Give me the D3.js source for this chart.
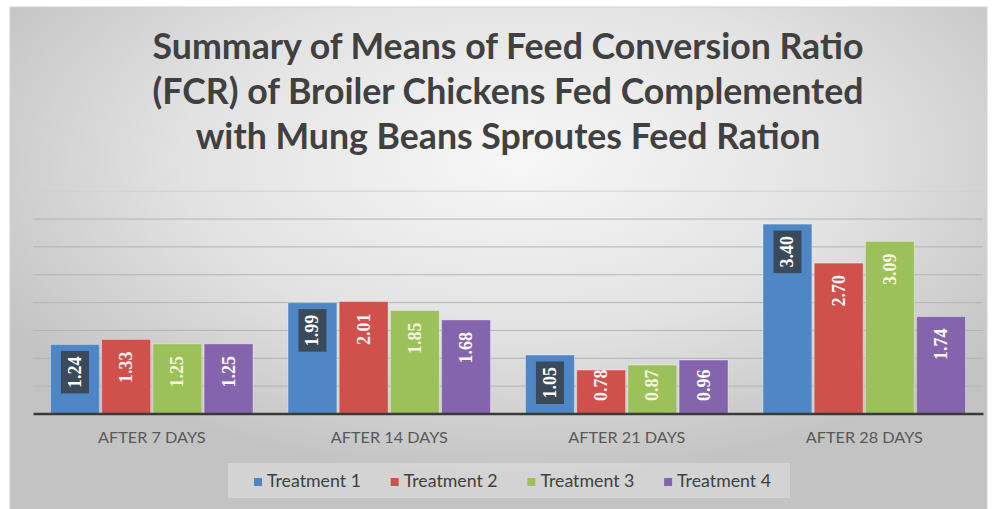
<!DOCTYPE html>
<html>
<head>
<meta charset="utf-8">
<script src="https://cdn.jsdelivr.net/npm/d3@7"></script>
<style>
  html, body { margin: 0; padding: 0; background: #ffffff; }
  svg { display: block; }
</style>
</head>
<body>
<svg id="chart" width="994" height="509"></svg>
<script>
// ---------- data ----------
const categories = ["AFTER 7 DAYS", "AFTER 14 DAYS", "AFTER 21 DAYS", "AFTER 28 DAYS"];
const seriesNames = ["Treatment 1", "Treatment 2", "Treatment 3", "Treatment 4"];
const treatment1 = [1.24, 1.99, 1.05, 3.40];
const treatment2 = [1.33, 2.01, 0.78, 2.70];
const treatment3 = [1.25, 1.85, 0.87, 3.09];
const treatment4 = [1.25, 1.68, 0.96, 1.74];
const yTicks = [0.5, 1.0, 1.5, 2.0, 2.5, 3.0, 3.5, 4.0];
const titleLines = [
  "Summary of Means of Feed Conversion Ratio",
  "(FCR) of Broiler Chickens Fed Complemented",
  "with Mung Beans Sproutes Feed Ration"
];

// ---------- styles ----------
const colors = ["#4f86c6", "#d0504c", "#9cc05a", "#8465ad"];
const labelColors = ["#ffffff", "#fff4f4", "#f4f8dc", "#ffffff"];
const seriesValues = [treatment1, treatment2, treatment3, treatment4];

const svg = d3.select("#chart");
const W = 994, H = 509;

// background gradient
const defs = svg.append("defs");
const grad = defs.append("radialGradient").attr("id", "bg")
  .attr("cx", "52%").attr("cy", "30%").attr("r", "62%");
grad.append("stop").attr("offset", "0%").attr("stop-color", "#f7f7f7");
grad.append("stop").attr("offset", "55%").attr("stop-color", "#e2e2e2");
grad.append("stop").attr("offset", "100%").attr("stop-color", "#c3c3c3");

svg.append("rect").attr("x", 0).attr("y", 0).attr("width", W).attr("height", H).attr("fill", "#ffffff");
svg.append("rect").attr("x", 10).attr("y", 7).attr("width", 977).attr("height", 510)
  .attr("fill", "url(#bg)").attr("stroke", "#d2d2d2").attr("stroke-width", 1);

// ---------- scales ----------
const plotLeft = 33, plotRight = 983;
const y = d3.scaleLinear().domain([0, 4]).range([413.5, 190.7]);
const x0 = d3.scaleBand().domain(categories).range([plotLeft, plotRight]).padding(0);
const groupPad = 17.5;
const x1 = d3.scaleBand().domain(seriesNames)
  .range([groupPad, x0.bandwidth() - groupPad]).paddingInner(0.045).paddingOuter(0);

// gridlines
const grid = svg.append("g").attr("class", "grid")
  .attr("transform", `translate(${plotLeft},0)`)
  .call(d3.axisLeft(y).tickValues(yTicks).tickSize(-(plotRight - plotLeft)).tickFormat(""));
grid.select(".domain").remove();
grid.selectAll(".tick line")
  .attr("stroke", d => d >= 3.75 ? "#cfcfcf" : "#b3b3b3")
  .attr("stroke-width", 1);

// bars
const rows = categories.map((c, i) => ({
  cat: c,
  vals: seriesNames.map((s, j) => ({ s, j, v: seriesValues[j][i] }))
}));

const groups = svg.append("g").selectAll("g.grp").data(rows).join("g")
  .attr("class", "grp")
  .attr("transform", d => `translate(${x0(d.cat)},0)`);

groups.selectAll("rect.bar").data(d => d.vals).join("rect")
  .attr("class", "bar")
  .attr("x", d => x1(d.s))
  .attr("y", d => y(d.v))
  .attr("width", x1.bandwidth())
  .attr("height", d => y(0) - y(d.v))
  .attr("fill", d => colors[d.j])
  .attr("stroke", "rgba(255,255,255,0.35)")
  .attr("stroke-width", 1);

// data labels (rotated, inside end; pushed up when the bar is short)
const labelFont = "'Liberation Serif', 'DejaVu Serif', serif";
const lbl = groups.selectAll("g.lbl").data(d => d.vals).join("g")
  .attr("class", "lbl");

const boxes = lbl.filter(d => d.j === 0).append("rect")
  .attr("fill", "#3b4a5b");

const ltxt = lbl.append("text")
  .attr("x", 0).attr("y", 0)
  .attr("text-anchor", "start")
  .attr("dominant-baseline", "central")
  .attr("font-family", labelFont)
  .attr("font-weight", "bold")
  .attr("font-size", 18)
  .attr("fill", d => labelColors[d.j])
  .text(d => d.v.toFixed(2));

ltxt.each(function (d) {
  const len = this.getComputedTextLength();
  d.len = len;
  const topY = y(d.v) + 12;
  const bottomLimit = y(0) - 12.5;
  let bottomY = topY + len;
  if (bottomY > bottomLimit) bottomY = bottomLimit;
  d.by = bottomY;
});
lbl.attr("transform", d => `translate(${x1(d.s) + x1.bandwidth() / 2},${d.by}) rotate(-90)`);
boxes.attr("x", d => -5.5).attr("y", -14)
  .attr("width", d => d.len + 11).attr("height", 28);

// x axis line
svg.append("g")
  .attr("class", "xaxis")
  .attr("transform", `translate(0,${y(0)})`)
  .call(d3.axisBottom(x0).tickSize(0).tickPadding(18))
  .call(g => g.select(".domain").attr("stroke", "#3a3a3a").attr("stroke-width", 2.5))
  .call(g => g.selectAll("text")
    .attr("font-family", "Lato, 'Open Sans', sans-serif")
    .attr("font-size", 15)
    .attr("fill", "#595959"));

// fit x labels width (~117px for "AFTER 14 DAYS")
(function () {
  const t = svg.selectAll(".xaxis .tick text").filter(d => d === "AFTER 14 DAYS").node();
  if (t) {
    const w = t.getComputedTextLength();
    svg.selectAll(".xaxis .tick text").attr("font-size", 15 * 117 / w);
  }
})();

// title
const title = svg.append("g").attr("class", "title");
const tLines = title.selectAll("text").data(titleLines).join("text")
  .attr("x", 508)
  .attr("y", (d, i) => 58.5 + i * 45)
  .attr("text-anchor", "middle")
  .attr("font-family", "Lato, 'Open Sans', sans-serif")
  .attr("font-weight", "bold")
  .attr("font-size", 32)
  .attr("fill", "#404040")
  .text(d => d);
(function () {
  const w = tLines.nodes()[0].getComputedTextLength();
  tLines.attr("font-size", 32 * 711 / w);
})();

// legend
const legend = svg.append("g").attr("class", "legend");
legend.append("rect").attr("x", 228).attr("y", 463).attr("width", 562).attr("height", 35)
  .attr("fill", "rgba(255,255,255,0.28)");
const legStep = 136.7;
const li = legend.selectAll("g.item").data(seriesNames).join("g")
  .attr("class", "item")
  .attr("transform", (d, i) => `translate(${254 + i * legStep},0)`);
li.append("rect").attr("x", 0).attr("y", 478).attr("width", 8).attr("height", 8)
  .attr("fill", (d, i) => colors[i]);
const lt = li.append("text").attr("x", 13).attr("y", 487)
  .attr("font-family", "Lato, 'Open Sans', sans-serif")
  .attr("font-size", 15)
  .attr("fill", "#404040")
  .text(d => d);
(function () {
  const w = lt.nodes()[0].getComputedTextLength();
  lt.attr("font-size", 15 * 94 / w);
})();
</script>
</body>
</html>
